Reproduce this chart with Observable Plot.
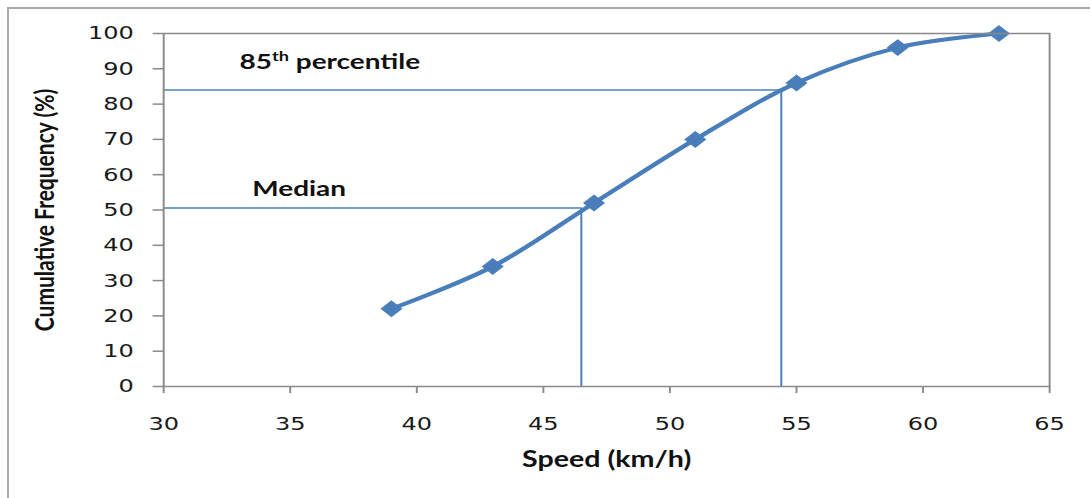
<!DOCTYPE html>
<html>
<head>
<meta charset="utf-8">
<script src="https://cdn.jsdelivr.net/npm/d3@7"></script>
<script src="https://cdn.jsdelivr.net/npm/@observablehq/plot@0.6"></script>
<style>
  html, body { margin: 0; padding: 0; background: #ffffff; overflow: hidden; }
  #chart { position: absolute; left: 0; top: 0; }
  #border { position: absolute; left: 7px; top: 7px; width: 1300px; height: 1000px;
            border: 2px solid #a9a9a9; pointer-events: none; }
</style>
</head>
<body>
<div id="chart"></div>
<div id="border"></div>
<script>
// ---- data ----
const speeds = [39, 43, 47, 51, 55, 59, 63];          // km/h
const cumFreq = [22, 34, 52, 70, 86, 96, 100];        // %
const xTicks = [30, 35, 40, 45, 50, 55, 60, 65];
const yTicks = [0, 10, 20, 30, 40, 50, 60, 70, 80, 90, 100];
const refNames = ["Median", "85th percentile"];
const refSpeeds = [46.5, 54.4];
const refPercents = [50.6, 84];

const points = speeds.map((s, i) => ({speed: s, freq: cumFreq[i]}));
const refs = refNames.map((n, i) => ({name: n, speed: refSpeeds[i], pct: refPercents[i]}));

const stretch = 1.3;           // horizontal stretch of the original picture
const W = 838;
const blue = "#4A7EBB";
const gray = "#8a8a8a";
const labelFont = "Lato, 'Open Sans', sans-serif";
const tickFont = "'DejaVu Sans', Verdana, sans-serif";

const svg = Plot.plot({
  width: W,
  height: 498,
  marginLeft: 125.4,
  marginRight: 31.1,
  marginTop: 33,
  marginBottom: 112,
  style: {background: "transparent", overflow: "visible"},
  x: {domain: [xTicks[0], xTicks[xTicks.length - 1]]},
  y: {domain: [yTicks[0], yTicks[yTicks.length - 1]]},
  marks: [
    Plot.ruleY(refs, {y: "pct", x1: () => xTicks[0], x2: "speed", stroke: blue, strokeWidth: 1.5}),
    Plot.ruleX(refs, {x: "speed", y1: () => yTicks[0], y2: "pct", stroke: blue, strokeWidth: 1.5}),
    Plot.line(points, {x: "speed", y: "freq", curve: "catmull-rom", stroke: blue, strokeWidth: 4}),
    Plot.dot(points, {x: "speed", y: "freq", symbol: "diamond2", r: 7, fill: blue, stroke: blue, strokeWidth: 1}),
    Plot.frame({stroke: gray, strokeWidth: 1.5}),
    Plot.axisX(xTicks, {tickSize: 7, tickPadding: 23, stroke: gray, strokeWidth: 1.5, fill: "#1a1a1a",
      fontSize: 18.5, fontFamily: tickFont, label: null}),
    Plot.axisY(yTicks, {tickSize: 8, tickPadding: 15, stroke: gray, strokeWidth: 1.5, fill: "#1a1a1a",
      fontSize: 18.5, fontFamily: tickFont, label: null}),
    Plot.text(["Speed (km/h)"], {frameAnchor: "bottom", dy: 80, fontSize: 22, fontWeight: "bold",
      fontFamily: labelFont, fill: "#111"}),
    Plot.text(["Cumulative Frequency (%)"], {frameAnchor: "left", textAnchor: "middle", dx: -91, rotate: -90,
      fontSize: 21, fontWeight: "bold", fontFamily: labelFont, fill: "#111"}),
    Plot.text([refNames[1]], {x: 33.0, y: 91.9, textAnchor: "start", fontSize: 21.5, fontWeight: "bold",
      fontFamily: labelFont, fill: "#111"}),
    Plot.text([refNames[0]], {x: 33.5, y: 55.9, textAnchor: "start", fontSize: 21.5, fontWeight: "bold",
      fontFamily: labelFont, fill: "#111"})
  ]
});

svg.style.transform = `scaleX(${stretch})`;
svg.style.transformOrigin = "0 0";
svg.style.maxWidth = "none";

// superscript "th"
svg.querySelectorAll("text").forEach(t => {
  if (t.textContent === "85th percentile") {
    t.textContent = "";
    const ns = "http://www.w3.org/2000/svg";
    const a = document.createElementNS(ns, "tspan"); a.textContent = "85";
    const b = document.createElementNS(ns, "tspan"); b.textContent = "th";
    b.setAttribute("font-size", "0.65em"); b.setAttribute("dy", "-0.55em");
    const c = document.createElementNS(ns, "tspan"); c.textContent = " percentile";
    c.setAttribute("dy", "0.36em");
    t.append(a, b, c);
  }
});

document.getElementById("chart").appendChild(svg);
</script>
</body>
</html>
